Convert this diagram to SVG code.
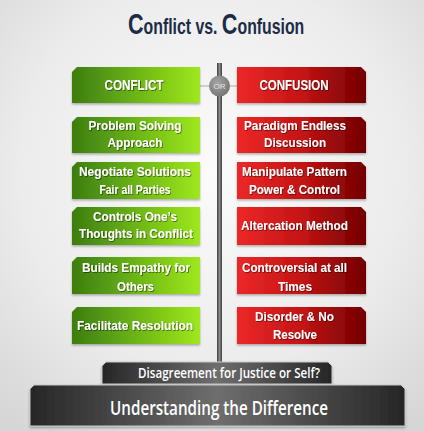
<svg xmlns="http://www.w3.org/2000/svg" width="424" height="431" viewBox="0 0 424 431">
<defs>
<radialGradient id="bg" cx="0.5" cy="0.4" r="0.75">
<stop offset="0" stop-color="#fbfbfb"/><stop offset="0.6" stop-color="#ececec"/><stop offset="1" stop-color="#d6d6d6"/>
</radialGradient>
<linearGradient id="gr" x1="0" y1="0" x2="1" y2="0">
<stop offset="0" stop-color="#3c7d10"/><stop offset="0.5" stop-color="#6cb516"/><stop offset="1" stop-color="#9ee81c"/>
</linearGradient>
<linearGradient id="rd" x1="0" y1="0" x2="1" y2="0">
<stop offset="0" stop-color="#ec2828"/><stop offset="0.5" stop-color="#c41414"/><stop offset="1" stop-color="#720000"/>
</linearGradient>
<linearGradient id="dk" x1="0" y1="0" x2="1" y2="0">
<stop offset="0" stop-color="#262626"/><stop offset="0.5" stop-color="#6e6e6e"/><stop offset="1" stop-color="#262626"/>
</linearGradient>
<linearGradient id="bar" x1="0" y1="0" x2="1" y2="0">
<stop offset="0" stop-color="#3e3e3e"/><stop offset="0.5" stop-color="#8a8a8a"/><stop offset="1" stop-color="#3e3e3e"/>
</linearGradient>
<radialGradient id="orc" cx="0.4" cy="0.35" r="0.7">
<stop offset="0" stop-color="#a4a4a4"/><stop offset="1" stop-color="#747474"/>
</radialGradient>
<filter id="ts" x="-10%" y="-30%" width="120%" height="160%">
<feDropShadow dx="0.8" dy="0.8" stdDeviation="0.5" flood-color="#000" flood-opacity="0.55"/>
</filter>
<filter id="bs" x="-5%" y="-10%" width="110%" height="130%">
<feDropShadow dx="0" dy="1.5" stdDeviation="1" flood-color="#000" flood-opacity="0.3"/>
</filter>
</defs>
<style>
.t{font-family:"Liberation Sans",Arial,sans-serif;font-weight:bold;font-size:13.5px;fill:#fff;text-anchor:middle;filter:url(#ts)}
.h{font-size:15px}
.g{fill:url(#gr);filter:url(#bs)}
.r{fill:url(#rd);filter:url(#bs)}
.d{fill:url(#dk);stroke:#c8c8c8;stroke-width:1;filter:url(#bs)}
.b{font-family:"Open Sans","Liberation Sans",sans-serif;font-weight:600;fill:#fff;text-anchor:middle}
</style>
<rect width="424" height="431" fill="url(#bg)"/>
<text x="128" y="34" font-family="Liberation Sans,Arial,sans-serif" font-weight="bold" fill="#1d2b47" transform="translate(128,0) scale(0.72,1) translate(-128,0)"><tspan font-size="30">C</tspan><tspan font-size="22">onflict vs. </tspan><tspan font-size="30">C</tspan><tspan font-size="22">onfusion</tspan></text>
<g id="connectors">
<line x1="200" y1="86" x2="237" y2="86" stroke="#cfcfcf" stroke-width="2"/>
<rect x="217" y="63" width="5" height="300" fill="url(#bar)"/>
</g>
<g id="or">
<circle cx="219.5" cy="86" r="10.5" fill="url(#orc)"/>
<text x="219.5" y="89" font-family="Liberation Sans,Arial,sans-serif" font-size="8" fill="#e4e4e4" text-anchor="middle">OR</text>
</g>
<g id="conflict">
<path class="g" d="M77,67H200V103H72V72Z"/>
<text class="t h" x="134" y="90" textLength="59" lengthAdjust="spacingAndGlyphs">CONFLICT</text>
</g>
<g id="confusion">
<path class="r" d="M237,67H361L366,72V103H237Z"/>
<text class="t h" x="294" y="90" textLength="69" lengthAdjust="spacingAndGlyphs">CONFUSION</text>
</g>
<g id="g1">
<path class="g" d="M77,117H200V153H72V122Z"/>
<text class="t" x="135" y="130" textLength="93" lengthAdjust="spacingAndGlyphs">Problem Solving</text>
<text class="t" x="135" y="147" textLength="55" lengthAdjust="spacingAndGlyphs">Approach</text>
</g>
<g id="g2">
<path class="g" d="M77,162H200V199H72V167Z"/>
<text class="t" x="135" y="176" textLength="112" lengthAdjust="spacingAndGlyphs">Negotiate Solutions</text>
<text class="t" x="135" y="194" textLength="71" lengthAdjust="spacingAndGlyphs">Fair all Parties</text>
</g>
<g id="g3">
<path class="g" d="M77,207H200V245H72V212Z"/>
<text class="t" x="135" y="221" textLength="84" lengthAdjust="spacingAndGlyphs">Controls One’s</text>
<text class="t" x="136" y="238" textLength="114" lengthAdjust="spacingAndGlyphs">Thoughts in Conflict</text>
</g>
<g id="g4">
<path class="g" d="M77,257H200V294H72V262Z"/>
<text class="t" x="136" y="272" textLength="108" lengthAdjust="spacingAndGlyphs">Builds Empathy for</text>
<text class="t" x="135.5" y="291" textLength="37" lengthAdjust="spacingAndGlyphs">Others</text>
</g>
<g id="g5">
<path class="g" d="M77,307H200V344H72V312Z"/>
<text class="t" x="135" y="330" textLength="116" lengthAdjust="spacingAndGlyphs">Facilitate Resolution</text>
</g>
<g id="r1">
<path class="r" d="M237,117H361L366,122V153H237Z"/>
<text class="t" x="295" y="130" textLength="102" lengthAdjust="spacingAndGlyphs">Paradigm Endless</text>
<text class="t" x="295" y="147" textLength="62" lengthAdjust="spacingAndGlyphs">Discussion</text>
</g>
<g id="r2">
<path class="r" d="M237,162H361L366,167V199H237Z"/>
<text class="t" x="294.5" y="176" textLength="105" lengthAdjust="spacingAndGlyphs">Manipulate Pattern</text>
<text class="t" x="294.5" y="194" textLength="91" lengthAdjust="spacingAndGlyphs">Power &amp; Control</text>
</g>
<g id="r3">
<path class="r" d="M237,207H361L366,212V245H237Z"/>
<text class="t" x="294.5" y="230" textLength="107" lengthAdjust="spacingAndGlyphs">Altercation Method</text>
</g>
<g id="r4">
<path class="r" d="M237,257H361L366,262V294H237Z"/>
<text class="t" x="294.5" y="272" textLength="105" lengthAdjust="spacingAndGlyphs">Controversial at all</text>
<text class="t" x="295" y="291" textLength="34" lengthAdjust="spacingAndGlyphs">Times</text>
</g>
<g id="r5">
<path class="r" d="M237,307H361L366,312V344H237Z"/>
<text class="t" x="294.5" y="321" textLength="79" lengthAdjust="spacingAndGlyphs">Disorder &amp; No</text>
<text class="t" x="295" y="339" textLength="44" lengthAdjust="spacingAndGlyphs">Resolve</text>
</g>
<g id="question">
<path class="d" d="M106,362H328L332,366V384H102V366Z"/>
<text class="b" x="229" y="378" font-size="13.5" textLength="182" lengthAdjust="spacingAndGlyphs">Disagreement for Justice or Self?</text>
</g>
<g id="understanding">
<path class="d" d="M34,385H401L405,389V426H30V389Z"/>
<text class="b" x="219" y="415" font-size="20" textLength="218" lengthAdjust="spacingAndGlyphs">Understanding the Difference</text>
</g>
</svg>
